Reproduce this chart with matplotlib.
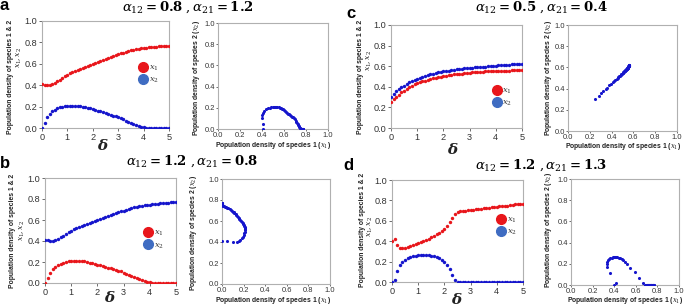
import matplotlib
matplotlib.use("Agg")
import matplotlib.pyplot as plt
from matplotlib.lines import Line2D

plt.rcParams['mathtext.fontset'] = 'dejavuserif'
plt.rcParams['font.family'] = ['Liberation Sans', 'DejaVu Sans']

delta = [0.0, 0.1, 0.2, 0.3, 0.4, 0.5, 0.6, 0.7, 0.8, 0.9,
         1.0, 1.1, 1.2, 1.3, 1.4, 1.5, 1.6, 1.7, 1.8, 1.9,
         2.0, 2.1, 2.2, 2.3, 2.4, 2.5, 2.6, 2.7, 2.8, 2.9,
         3.0, 3.1, 3.2, 3.3, 3.4, 3.5, 3.6, 3.7, 3.8, 3.9,
         4.0, 4.1, 4.2, 4.3, 4.4, 4.5, 4.6, 4.7, 4.8, 4.9, 5.0]

# panel a: alpha12=0.8, alpha21=1.2
a_x1 = [0.41, 0.405, 0.40, 0.40, 0.41, 0.42, 0.435, 0.45, 0.47, 0.485,
        0.50, 0.51, 0.52, 0.53, 0.54, 0.55, 0.56, 0.57, 0.58, 0.59,
        0.60, 0.61, 0.62, 0.63, 0.64, 0.645, 0.655, 0.665, 0.675, 0.685,
        0.69, 0.70, 0.705, 0.71, 0.72, 0.725, 0.73, 0.735, 0.74, 0.745,
        0.745, 0.75, 0.755, 0.755, 0.76, 0.76, 0.765, 0.765, 0.77, 0.77, 0.77]
a_x2 = [0.0, 0.05, 0.10, 0.135, 0.155, 0.17, 0.185, 0.195, 0.20, 0.205,
        0.21, 0.21, 0.21, 0.21, 0.21, 0.205, 0.20, 0.195, 0.19, 0.185,
        0.175, 0.17, 0.16, 0.155, 0.145, 0.14, 0.13, 0.125, 0.115, 0.11,
        0.10, 0.09, 0.08, 0.07, 0.06, 0.05, 0.04, 0.03, 0.02, 0.012,
        0.008, 0.004, 0.002, 0.0, 0.0, 0.0, 0.0, 0.0, 0.0, 0.0, 0.0]

# panel b: alpha12=1.2, alpha21=0.8
b_x1 = [0.0, 0.05, 0.10, 0.135, 0.155, 0.17, 0.185, 0.195, 0.20, 0.205,
        0.21, 0.21, 0.21, 0.21, 0.21, 0.205, 0.20, 0.195, 0.19, 0.185,
        0.175, 0.17, 0.16, 0.155, 0.145, 0.14, 0.13, 0.125, 0.115, 0.11,
        0.10, 0.09, 0.08, 0.07, 0.06, 0.05, 0.04, 0.03, 0.02, 0.012,
        0.008, 0.004, 0.002, 0.0, 0.0, 0.0, 0.0, 0.0, 0.0, 0.0, 0.0]
b_x2 = [0.41, 0.405, 0.40, 0.40, 0.41, 0.42, 0.435, 0.45, 0.47, 0.485,
        0.50, 0.51, 0.52, 0.53, 0.54, 0.55, 0.56, 0.57, 0.58, 0.59,
        0.60, 0.61, 0.62, 0.63, 0.64, 0.645, 0.655, 0.665, 0.675, 0.685,
        0.69, 0.70, 0.705, 0.71, 0.72, 0.725, 0.73, 0.735, 0.74, 0.745,
        0.745, 0.75, 0.755, 0.755, 0.76, 0.76, 0.765, 0.765, 0.77, 0.77, 0.77]

# panel c: alpha12=0.5, alpha21=0.4
c_x1 = [0.25, 0.28, 0.305, 0.325, 0.345, 0.36, 0.38, 0.395, 0.41, 0.425,
        0.435, 0.445, 0.455, 0.46, 0.47, 0.475, 0.485, 0.49, 0.495, 0.50,
        0.505, 0.508, 0.512, 0.516, 0.52, 0.523, 0.526, 0.529, 0.532, 0.535,
        0.537, 0.539, 0.541, 0.543, 0.545, 0.547, 0.549, 0.55, 0.551, 0.552,
        0.553, 0.554, 0.555, 0.556, 0.557, 0.558, 0.559, 0.56, 0.561, 0.562, 0.563]
c_x2 = [0.30, 0.33, 0.355, 0.375, 0.395, 0.41, 0.43, 0.445, 0.46, 0.47,
        0.48, 0.49, 0.50, 0.507, 0.515, 0.522, 0.528, 0.535, 0.54, 0.546,
        0.55, 0.554, 0.558, 0.562, 0.566, 0.57, 0.573, 0.576, 0.579, 0.582,
        0.585, 0.587, 0.589, 0.591, 0.593, 0.595, 0.597, 0.599, 0.601, 0.603,
        0.605, 0.607, 0.609, 0.611, 0.613, 0.615, 0.617, 0.619, 0.621, 0.623, 0.625]

# panel d: alpha12=1.2, alpha21=1.3
d_x1 = [0.40, 0.42, 0.36, 0.335, 0.33, 0.335, 0.345, 0.355, 0.365, 0.375,
        0.385, 0.395, 0.405, 0.415, 0.425, 0.44, 0.455, 0.47, 0.485, 0.50,
        0.52, 0.55, 0.59, 0.63, 0.665, 0.685, 0.695, 0.70, 0.70, 0.705,
        0.71, 0.71, 0.715, 0.72, 0.72, 0.725, 0.73, 0.73, 0.735, 0.74,
        0.74, 0.745, 0.745, 0.75, 0.75, 0.755, 0.755, 0.76, 0.76, 0.765, 0.765]
d_x2 = [0.0, 0.02, 0.11, 0.17, 0.20, 0.22, 0.235, 0.245, 0.252, 0.258,
        0.262, 0.265, 0.265, 0.265, 0.262, 0.258, 0.252, 0.245, 0.235, 0.22,
        0.20, 0.165, 0.125, 0.065, 0.015, 0.003, 0.0, 0.0, 0.0, 0.0,
        0.0, 0.0, 0.0, 0.0, 0.0, 0.0, 0.0, 0.0, 0.0, 0.0,
        0.0, 0.0, 0.0, 0.0, 0.0, 0.0, 0.0, 0.0, 0.0, 0.0, 0.0]

titles = [r'$\boldsymbol{\alpha_{12}=0.8\ ,\alpha_{21}=1.2}$',
          r'$\boldsymbol{\alpha_{12}=1.2\ ,\alpha_{21}=0.8}$',
          r'$\boldsymbol{\alpha_{12}=0.5\ ,\alpha_{21}=0.4}$',
          r'$\boldsymbol{\alpha_{12}=1.2\ ,\alpha_{21}=1.3}$']
letters = ['a', 'b', 'c', 'd']

W, H = 685, 307
fig = plt.figure(figsize=(W / 100, H / 100), dpi=100)


def px(x, y):
    return x / W, 1 - y / H


def box(l, r, t, b):
    return [l / W, 1 - b / H, (r - l) / W, (b - t) / H]


RED = '#e8161b'
BLUE = '#1515cc'
LRED = '#e8161b'
LBLUE = '#3f6cc2'
SPINE = '#b0b0b0'

panels = [
    dict(x1=a_x1, x2=a_x2, left=box(42, 169, 21, 128), right=box(218, 328, 23, 129),
         title=(188, 7), letter=(4, 6), yl1=(11, 76.7), yl2=(19.5, 58), dl=(103, 146),
         ryl=(196.7, 78), rxl=(273, 145.5), leg=(0.84, 0.50)),
    dict(x1=b_x1, x2=b_x2, left=box(45, 176, 178, 283), right=box(222, 330, 179, 284),
         title=(192, 161), letter=(5, 164), yl1=(13, 230.7), yl2=(22, 231), dl=(110, 297),
         ryl=(193.3, 233), rxl=(273, 300), leg=(0.83, 0.41)),
    dict(x1=c_x1, x2=c_x2, left=box(391, 522, 25, 128), right=box(568, 677, 25, 131),
         title=(541, 7), letter=(351, 13), yl1=(360.5, 76.7), yl2=(369.5, 60.7), dl=(453, 149),
         ryl=(548, 78), rxl=(623, 146.5), leg=(0.85, 0.30)),
    dict(x1=d_x1, x2=d_x2, left=box(392, 523, 180, 282), right=box(571, 679, 179, 285),
         title=(541, 165), letter=(348, 166), yl1=(362, 230), yl2=(370.5, 227), dl=(457, 299),
         ryl=(548, 230), rxl=(625, 301), leg=(0.88, 0.545)),
]

label_font = dict(family='Liberation Sans', fontweight='bold', fontsize=4.9, color='#222222')

for p, title, letter in zip(panels, titles, letters):
    axl = fig.add_axes(p['left'])
    axl.scatter(delta, p['x1'], s=6, color=RED, linewidths=0, zorder=3)
    axl.scatter(delta, p['x2'], s=6, color=BLUE, linewidths=0, zorder=3)
    axl.set_xlim(0, 5)
    axl.set_ylim(0, 1)
    axl.set_xticks([0, 1, 2, 3, 4, 5])
    axl.set_yticks([0, 0.2, 0.4, 0.6, 0.8, 1.0])
    axl.set_yticklabels(['0.0', '0.2', '0.4', '0.6', '0.8', '1.0'])
    axl.tick_params(labelsize=6.6, colors='#333333', length=2, width=0.5, pad=1.5)
    for s in axl.spines.values():
        s.set_color(SPINE)
        s.set_linewidth(0.8)
    handles = [Line2D([], [], marker='o', ls='', color=LRED, markersize=7),
               Line2D([], [], marker='o', ls='', color=LBLUE, markersize=7)]
    axl.legend(handles, [r'$x_1$', r'$x_2$'], loc='center', bbox_to_anchor=p['leg'],
               frameon=False, fontsize=6, handletextpad=0.2, labelspacing=0.35,
               borderpad=0, handlelength=1.0, labelcolor='#333333')

    axr = fig.add_axes(p['right'])
    axr.scatter(p['x1'], p['x2'], s=5, color=BLUE, linewidths=0, zorder=3)
    axr.set_xlim(0, 1)
    axr.set_ylim(0, 1)
    ticks = [0, 0.2, 0.4, 0.6, 0.8, 1.0]
    tl = ['0.0', '0.2', '0.4', '0.6', '0.8', '1.0']
    axr.set_xticks(ticks)
    axr.set_xticklabels(tl)
    axr.set_yticks(ticks)
    axr.set_yticklabels(tl)
    axr.tick_params(labelsize=5.4, colors='#333333', length=1.5, width=0.5, pad=0.8)
    for s in axr.spines.values():
        s.set_color(SPINE)
        s.set_linewidth(0.8)

    fig.text(*px(*p['title']), title, ha='center', va='center', fontsize=9.5)
    fig.text(*px(*p['letter']), letter, ha='center', va='center', fontsize=12,
             fontweight='bold', family='Liberation Sans')
    fig.text(*px(*p['yl1']), 'Population density of species 1 & 2', rotation=90,
             ha='center', va='center', **label_font)
    fig.text(*px(*p['yl2']), r'$\boldsymbol{x_1, x_2}$', rotation=90,
             ha='center', va='center', fontsize=5.5, color='#222222')
    fig.text(*px(*p['dl']), r'$\boldsymbol{\delta}$', ha='center', va='center',
             fontsize=11, color='#222222')
    fig.text(*px(*p['ryl']), r'Population density of species 2 ($\boldsymbol{x_2}$)',
             rotation=90, ha='center', va='center', **label_font)
    fig.text(*px(*p['rxl']), r'Population density of species 1 ($\boldsymbol{x_1}$)',
             ha='center', va='center', **label_font)

fig.savefig('out.png', dpi=100)
